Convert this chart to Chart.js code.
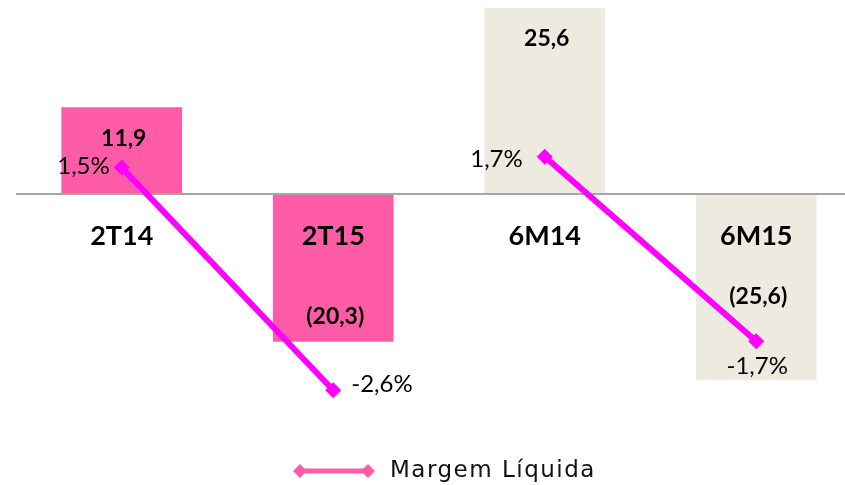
<!DOCTYPE html>
<html>
<head>
<meta charset="utf-8">
<script src="https://cdn.jsdelivr.net/npm/chart.js@4.4.1/dist/chart.umd.min.js"></script>
<style>
  html, body { margin: 0; padding: 0; background: #fff; overflow: hidden; }
  #wrap { width: 845px; height: 485px; overflow: hidden; }
  canvas { display: block; }
</style>
</head>
<body>
<div id="wrap"><canvas id="resultado" width="862" height="485"></canvas></div>
<script>
// Lucro liquido (R$ milhoes) e margem liquida
const periodos = ['2T14', '2T15', '6M14', '6M15'];
const lucroLiquido = [11.9, -20.3, 25.6, -25.6];
const margemLiquida = [1.5, -2.6, 1.7, -1.7];
const rotulosLucro = ['11,9', '(20,3)', '25,6', '(25,6)'];
const rotulosMargem = ['1,5%', '-2,6%', '1,7%', '-1,7%'];

const corTrimestre = '#FF5CA8';
const corSemestre = '#EDEAE0';
const corLinha = '#FF00FF';
const fonte = 'Lato, "DejaVu Sans", sans-serif';

// onde vai cada rotulo (estilo, nao dado)
const desvioLucro = [31, -25, 30, -83];          // px a partir da ponta da barra
const posMargem = [
  { dx: -12, dy: -1, align: 'right' },
  { dx: 18, dy: -6, align: 'left' },
  { dx: -22, dy: 3, align: 'right' },
  { dx: 1, dy: 25, align: 'center' }
];

const rotulos = {
  id: 'rotulos',
  beforeDatasetDraw(chart, args) {
    if (args.index !== 1) return;
    // linha do zero
    const ctx = chart.ctx;
    const y0 = chart.scales.y.getPixelForValue(0);
    ctx.save();
    ctx.strokeStyle = '#A6A6A6';
    ctx.lineWidth = 2;
    ctx.beginPath();
    ctx.moveTo(chart.chartArea.left, y0);
    ctx.lineTo(chart.width, y0);
    ctx.stroke();
    ctx.restore();
  },
  afterDatasetsDraw(chart) {
    const ctx = chart.ctx;
    const y0 = chart.scales.y.getPixelForValue(0);
    const barras = chart.getDatasetMeta(0).data;
    const pontos = chart.getDatasetMeta(1).data;
    ctx.save();
    ctx.fillStyle = '#000';
    ctx.textBaseline = 'middle';
    ctx.textAlign = 'center';

    // nomes dos periodos sob a linha do zero
    ctx.font = 'bold 27px ' + fonte;
    barras.forEach((b, i) => ctx.fillText(periodos[i], b.x, y0 + 42));

    // valores das barras
    ctx.font = 'bold 23px ' + fonte;
    barras.forEach((b, i) => {
      ctx.fillText(rotulosLucro[i], b.x + 2, b.y + desvioLucro[i]);
    });

    // valores da margem
    ctx.font = '24px ' + fonte;
    pontos.forEach((p, i) => {
      const o = posMargem[i];
      ctx.textAlign = o.align;
      ctx.fillText(rotulosMargem[i], p.x + o.dx, p.y + o.dy);
    });

    // legenda
    const ly = 471;
    ctx.strokeStyle = corTrimestre;
    ctx.fillStyle = corTrimestre;
    ctx.lineWidth = 5;
    ctx.beginPath();
    ctx.moveTo(300, ly);
    ctx.lineTo(368, ly);
    ctx.stroke();
    [300, 368].forEach(x => {
      ctx.beginPath();
      ctx.moveTo(x - 7, ly);
      ctx.lineTo(x, ly - 7);
      ctx.lineTo(x + 7, ly);
      ctx.lineTo(x, ly + 7);
      ctx.closePath();
      ctx.fill();
    });
    ctx.fillStyle = '#111';
    ctx.textAlign = 'left';
    ctx.font = '23px "DejaVu Sans", sans-serif';
    ctx.letterSpacing = '1.5px';
    ctx.fillText('Margem Líquida', 390, ly);
    ctx.restore();
  }
};

new Chart(document.getElementById('resultado'), {
  data: {
    labels: periodos,
    datasets: [
      {
        type: 'bar',
        label: 'Lucro Líquido',
        data: lucroLiquido,
        backgroundColor: [corTrimestre, corTrimestre, corSemestre, corSemestre],
        barThickness: 120,
        yAxisID: 'y',
        order: 2
      },
      {
        type: 'line',
        label: 'Margem Líquida',
        data: margemLiquida,
        borderColor: corLinha,
        backgroundColor: corLinha,
        borderWidth: 6,
        pointStyle: 'rectRot',
        pointRadius: 8,
        pointBorderWidth: 0,
        tension: 0,
        segment: {
          borderColor: c => c.p0DataIndex === 1 ? 'rgba(0,0,0,0)' : corLinha
        },
        yAxisID: 'y2',
        order: 1
      }
    ]
  },
  options: {
    responsive: false,
    animation: false,
    layout: { autoPadding: false, padding: { left: 16, right: 0, top: 0, bottom: 55 } },
    plugins: {
      legend: { display: false },
      tooltip: { enabled: false }
    },
    scales: {
      x: { display: false, offset: true },
      y: { display: false, min: -32.5, max: 26.72 },
      y2: { display: false, min: -3.333, max: 4.586 }
    }
  },
  plugins: [rotulos]
});
</script>
</body>
</html>
